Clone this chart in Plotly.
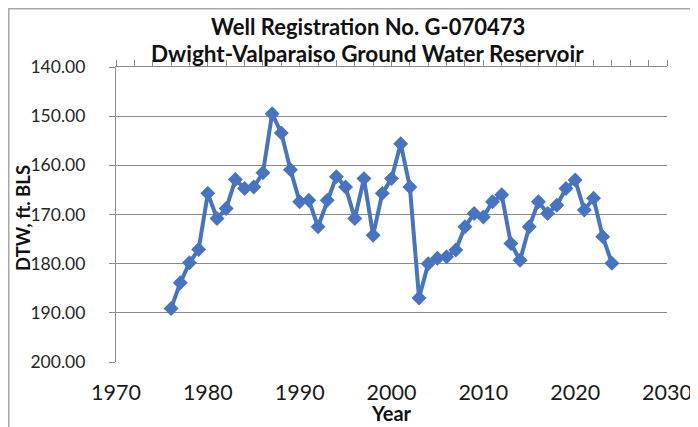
import plotly.graph_objects as go

years = list(range(1976, 2025))
dtw = [189.1, 183.9, 179.8, 177.1, 165.7, 170.8, 168.8, 162.9, 164.7, 164.4,
       161.5, 149.5, 153.4, 160.9, 167.4, 167.1, 172.5, 167.1, 162.3, 164.4,
       170.8, 162.7, 174.2, 165.7, 162.7, 155.6, 164.4, 187.0, 180.0, 178.9,
       178.6, 177.2, 172.5, 169.8, 170.5, 167.4, 166.0, 175.9, 179.3, 172.5,
       167.4, 169.8, 168.1, 164.7, 163.0, 169.1, 166.7, 174.5, 179.9]

title1 = "Well Registration No. G-070473"
title2 = "Dwight-Valparaiso Ground Water Reservoir"
x_title = "Year"
y_title = "DTW, ft. BLS"

BLUE = "#4674C0"
GRID = "#8a8a8a"
FONT = "Lato"

fig = go.Figure()
fig.add_trace(go.Scatter(
    x=years, y=dtw, mode="lines+markers",
    line=dict(color=BLUE, width=4),
    marker=dict(symbol="diamond", size=11.5, color=BLUE),
    showlegend=False, cliponaxis=False,
))
# invisible trace on top axis to host the minor tick marks
fig.add_trace(go.Scatter(x=[1970, 2030], y=[140, 140], xaxis="x2",
                         mode="markers", marker=dict(opacity=0),
                         showlegend=False, hoverinfo="skip"))

fig.update_layout(
    width=698, height=427,
    margin=dict(l=108, r=39, t=59, b=73),
    paper_bgcolor="white", plot_bgcolor="white",
    font=dict(family=FONT, color="#262626"),
    xaxis=dict(range=[1970, 2030], dtick=10, tick0=1970, showgrid=False,
               zeroline=False, showline=False, ticks="",
               tickfont=dict(size=21.5, family=FONT, color="#1a1a1a"),
               ticklabelstandoff=15),
    xaxis2=dict(range=[1970, 2030], dtick=2, tick0=1970, overlaying="x",
                side="top", anchor="y", showgrid=False, zeroline=False,
                showline=True, linecolor=GRID, linewidth=1.3,
                ticks="outside", ticklen=6, tickcolor=GRID, tickwidth=1.2,
                showticklabels=False),
    yaxis=dict(range=[200, 140], dtick=10, tick0=140, tickformat=".2f",
               showgrid=True, gridcolor=GRID, gridwidth=1.3, zeroline=False,
               showline=True, linecolor=GRID, linewidth=1.3,
               ticks="outside", ticklen=6, tickcolor=GRID, tickwidth=1.2,
               tickfont=dict(size=17.5, family=FONT, color="#262626"),
               ticklabelstandoff=20),
    annotations=[
        dict(text="<b>" + title1 + "</b>", xref="paper", yref="paper",
             x=0.457, y=1.136, xanchor="center", yanchor="middle",
             showarrow=False, font=dict(size=22, family=FONT, color="#111")),
        dict(text="<b>" + title2 + "</b>", xref="paper", yref="paper",
             x=0.457, y=1.045, xanchor="center", yanchor="middle",
             showarrow=False, font=dict(size=22.5, family=FONT, color="#111")),
        dict(text="<b>" + x_title + "</b>", xref="paper", yref="paper",
             x=0.5, y=-0.173, xanchor="center", yanchor="middle",
             showarrow=False, font=dict(size=20, family=FONT, color="#111")),
        dict(text="<b>" + y_title + "</b>", xref="paper", yref="paper",
             x=-0.168, y=0.49, xanchor="center", yanchor="middle",
             textangle=-90, showarrow=False,
             font=dict(size=18.5, family=FONT, color="#111")),
    ],
    shapes=[
        dict(type="rect", xref="paper", yref="paper",
             x0=-0.1946, x1=1.3, y0=-0.4, y1=1.1975,
             line=dict(color="#a6a6a6", width=1.5), layer="above"),
    ],
)

fig.write_html("out.html")
